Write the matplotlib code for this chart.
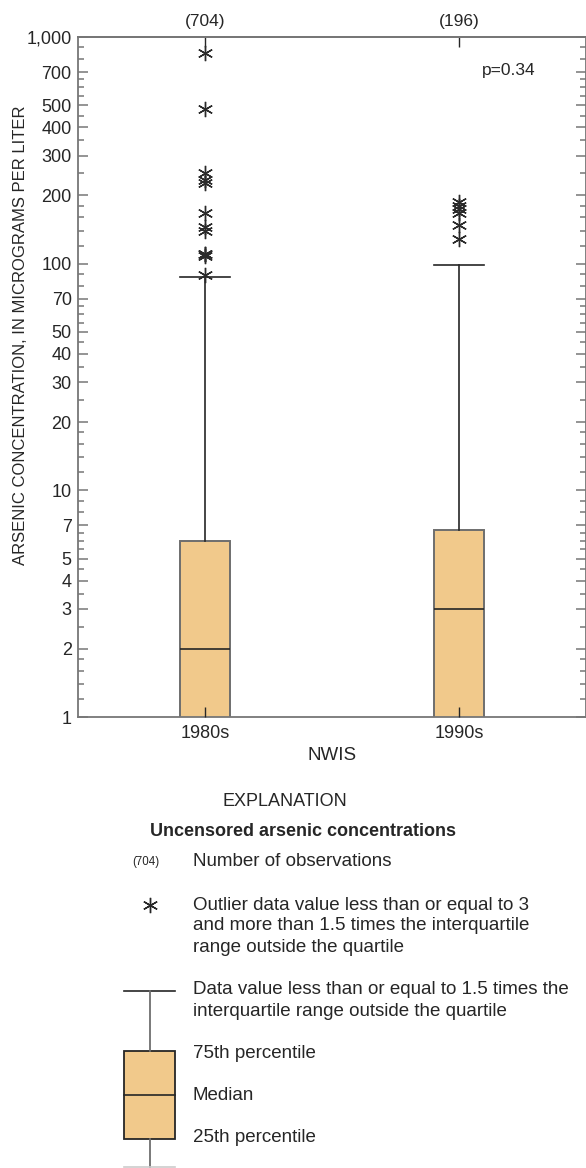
import matplotlib
matplotlib.use("Agg")
import matplotlib.pyplot as plt
from matplotlib.patches import Rectangle
from matplotlib.ticker import FixedLocator, NullFormatter
import numpy as np

plt.rcParams['font.family'] = ['Liberation Sans', 'DejaVu Sans']

# data
groups = ['1980s', '1990s']
counts = ['(704)', '(196)']
medians = [2.0, 3.0]
q1 = [0.8, 0.9]          # lower quartile falls below the axis floor
q3 = [6.0, 6.7]
whisker_lo = [0.3, 0.4]
whisker_hi = [87, 99]
outliers_1980s = [850, 480, 250, 235, 228, 168, 145, 140, 110, 110, 108, 89]
outliers_1990s = [188, 180, 175, 168, 148, 128]
p_value = 'p=0.34'

major_ticks = [1, 2, 3, 4, 5, 7, 10, 20, 30, 40, 50, 70, 100, 200, 300, 400, 500, 700, 1000]
major_labels = ['1', '2', '3', '4', '5', '7', '10', '20', '30', '40', '50', '70',
                '100', '200', '300', '400', '500', '700', '1,000']
minor_mant = [1.2, 1.4, 1.6, 1.8, 2.5, 3.5, 4.5, 5.5, 6, 6.5, 8, 9]
minor_ticks = [m * d for d in [1, 10, 100] for m in minor_mant]

box_color = '#f1c98b'
edge_grey = '#6e6e6e'
ink = '#262626'
spine_grey = '#767676'

W, H = 586, 1168
fig = plt.figure(figsize=(W / 100, H / 100), dpi=100)
ax = fig.add_axes([78 / W, 1 - 717 / H, 508 / W, 680 / H])

stats = []
for i in range(2):
    stats.append(dict(label=groups[i], med=medians[i], q1=q1[i], q3=q3[i],
                      whislo=whisker_lo[i], whishi=whisker_hi[i],
                      fliers=[outliers_1980s, outliers_1990s][i]))

ax.bxp(stats, positions=[1, 2], widths=0.2, capwidths=0.2, patch_artist=True,
       boxprops=dict(facecolor=box_color, edgecolor=edge_grey, linewidth=1.4),
       medianprops=dict(color=ink, linewidth=1.2),
       whiskerprops=dict(color=ink, linewidth=1.2),
       capprops=dict(color=ink, linewidth=1.2),
       flierprops=dict(marker=(6, 2, 0), markersize=11, markeredgecolor='#2a2a2a',
                       markeredgewidth=1.0, linestyle='none'))

ax.set_yscale('log')
ax.set_ylim(1, 1000)
ax.set_xlim(0.5, 2.5)
ax.set_axisbelow(False)

ax.yaxis.set_major_locator(FixedLocator(major_ticks))
ax.set_yticklabels(major_labels)
ax.yaxis.set_minor_locator(FixedLocator(minor_ticks))
ax.yaxis.set_minor_formatter(NullFormatter())
ax.set_xticks([1, 2])
ax.set_xticklabels(groups)

ax.tick_params(axis='y', which='major', direction='in', length=7.5, width=1.1,
               color=spine_grey, labelsize=13, pad=4.5, right=True,
               labelcolor=ink)
ax.tick_params(axis='y', which='minor', direction='in', length=4, width=1.1,
               color=spine_grey, right=True)
ax.tick_params(axis='x', which='major', direction='in', length=7.5, width=1.0,
               color=ink, labelsize=13, pad=6, labelcolor=ink)
for s in ax.spines.values():
    s.set_color(spine_grey)
    s.set_linewidth(1.3)

top = ax.secondary_xaxis('top')
top.set_xticks([1, 2])
top.set_xticklabels(counts)
top.tick_params(direction='in', length=7.5, width=1.0, color=ink, labelsize=12.5,
                pad=6, labelcolor=ink)
top.spines['top'].set_color(spine_grey)
top.spines['top'].set_linewidth(1.3)

ax.set_xlabel('NWIS', fontsize=13.5, labelpad=3, color=ink)
fig.text(21 / W, 1 - 335 / H, 'ARSENIC CONCENTRATION, IN MICROGRAMS PER LITER',
         rotation=90, ha='center', va='center', fontsize=12, color=ink)
ax.text((482 - 78) / 508, 1 - (71 - 37) / 680, p_value, transform=ax.transAxes,
        ha='left', va='center', fontsize=12.5, color=ink)

# explanation block, laid out in pixel space
lg = fig.add_axes([0, 0, 1, 1])
lg.set_xlim(0, W)
lg.set_ylim(H, 0)
lg.axis('off')
lg.patch.set_visible(False)

txt = dict(fontsize=13.5, color=ink, va='center', ha='left')
lg.text(285, 802, 'EXPLANATION', fontsize=13, color=ink, ha='center', va='center')
lg.text(303, 831, 'Uncensored arsenic concentrations', fontsize=13, color=ink,
        ha='center', va='center', fontweight='bold')
lg.text(146, 862, counts[0], fontsize=8.3, color=ink, ha='center', va='center')
lg.text(193, 862, 'Number of observations', **txt)

lg.plot([150], [905], marker=(6, 2, 0), markersize=11, markeredgecolor=ink,
        markeredgewidth=1.0, linestyle='none')
for k, line in enumerate(['Outlier data value less than or equal to 3',
                          'and more than 1.5 times the interquartile',
                          'range outside the quartile']):
    lg.text(193, 905 + 21 * k, line, **txt)

lg.plot([124, 175], [991, 991], color=ink, lw=1.2)
lg.plot([150, 150], [991, 1051], color=edge_grey, lw=1.3)
lg.add_patch(Rectangle((124, 1051), 51, 88, facecolor=box_color,
                       edgecolor=ink, lw=1.3))
lg.plot([124, 175], [1095, 1095], color=ink, lw=1.2)
lg.plot([150, 150], [1139, 1168], color=edge_grey, lw=1.3)
lg.plot([124, 175], [1167, 1167], color='#cccccc', lw=1.2)
for k, line in enumerate(['Data value less than or equal to 1.5 times the',
                          'interquartile range outside the quartile']):
    lg.text(193, 990 + 21 * k, line, **txt)
lg.text(193, 1053, '75th percentile', **txt)
lg.text(193, 1095, 'Median', **txt)
lg.text(193, 1138, '25th percentile', **txt)

fig.savefig('out.png', dpi=100)
